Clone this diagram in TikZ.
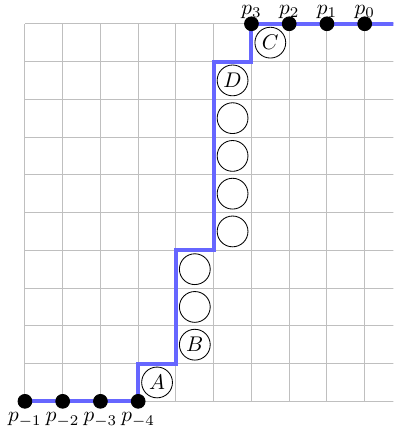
\documentclass[tikz,border=0pt]{standalone}
\begin{document}
\begin{tikzpicture}[x=0.625cm, y=0.625cm, every node/.style={font=\normalsize},
    every label/.style={inner sep=0.5pt}]
  \tikzstyle{pt}=[draw, fill, circle, inner sep=0pt, minimum size=6.5pt]
  \tikzstyle{ball}=[draw, circle, inner sep=1pt, minimum size=5.1mm]
  \tikzstyle{stair}=[blue!60, line width=1.9pt]
  \clip (-0.66, -0.68) rectangle (9.76, 10.63);
  \draw[gray!50, line width=0.5pt, step=1] (0, 0) grid (10, 10);
  \draw[stair] (0, 0) -- (3, 0) -- (3, 1) -- (4, 1) -- (4, 4) -- (5, 4)
    -- (5, 9) -- (6, 9) -- (6, 10) -- (10, 10);
  \node[pt, label={[label distance=1.2pt]below:{$p_{-1}$}}] (m1) at (0, 0) {};
  \node[pt, label={[label distance=1.2pt]below:{$p_{-2}$}}] (m2) at (1, 0) {};
  \node[pt, label={[label distance=1.2pt]below:{$p_{-3}$}}] (m3) at (2, 0) {};
  \node[pt, label={[label distance=1.2pt]below:{$p_{-4}$}}] (m4) at (3, 0) {};
  \node[pt, label={[label distance=-1.8pt]above:{$p_3$}}] (p3) at (6, 10) {};
  \node[pt, label={[label distance=-1.8pt]above:{$p_2$}}] (p2) at (7, 10) {};
  \node[pt, label={[label distance=-1.8pt]above:{$p_1$}}] (p1) at (8, 10) {};
  \node[pt, label={[label distance=-1.8pt]above:{$p_0$}}] (p0) at (9, 10) {};
  \node[ball] (a) at (3.5, 0.5) {$A$};
  \node[ball] (b) at (4.5, 1.5) {$B$};
  \node[ball] (b2) at (4.5, 2.5) {}; \node[ball] (b3) at (4.5, 3.5) {};
  \node[ball] (d5) at (5.5, 4.5) {}; \node[ball] (d6) at (5.5, 5.5) {};
  \node[ball] (d7) at (5.5, 6.5) {}; \node[ball] (d8) at (5.5, 7.5) {};
  \node[ball] (d) at (5.5, 8.5) {$D$};
  \node[ball] (c) at (6.5, 9.5) {$C$};
\end{tikzpicture}
\end{document}
